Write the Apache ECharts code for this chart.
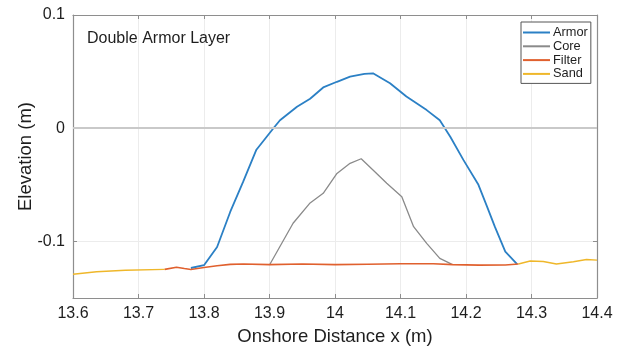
<!DOCTYPE html>
<html><head><meta charset="utf-8">
<script src="https://cdn.jsdelivr.net/npm/echarts@6/dist/echarts.min.js"></script>
<style>html,body{margin:0;padding:0;background:#fff}#c{width:626px;height:347px}</style>
</head><body><div id="c"></div>
<script>
const armorX = [13.78,13.80,13.82,13.84,13.86,13.88,13.906,13.916,13.942,13.962,13.982,14.003,14.023,14.045,14.058,14.084,14.109,14.14,14.16,14.176,14.196,14.219,14.232,14.244,14.26,14.278];
const armorY = [-0.1235,-0.121,-0.105,-0.074,-0.047,-0.019,0.0,0.007,0.019,0.026,0.036,0.041,0.0455,0.048,0.0485,0.0397,0.028,0.016,0.007,-0.0075,-0.028,-0.05,-0.069,-0.087,-0.109,-0.12];
const coreX = [13.90,13.936,13.962,13.982,14.003,14.023,14.04,14.058,14.079,14.102,14.12,14.14,14.16,14.178];
const coreY = [-0.1208,-0.084,-0.066,-0.0575,-0.04,-0.031,-0.027,-0.037,-0.0487,-0.0605,-0.087,-0.1017,-0.115,-0.12];
const filterX = [13.74,13.758,13.77,13.78,13.80,13.82,13.84,13.86,13.90,13.95,14.00,14.05,14.10,14.15,14.18,14.22,14.26,14.28];
const filterY = [-0.1247,-0.1228,-0.124,-0.1248,-0.123,-0.1215,-0.1203,-0.1200,-0.1205,-0.1200,-0.1205,-0.1202,-0.1198,-0.1198,-0.1205,-0.121,-0.1208,-0.1200];
const sandX = [13.60,13.636,13.68,13.74,14.0,14.28,14.298,14.318,14.338,14.364,14.384,14.40];
const sandY = [-0.129,-0.1268,-0.1255,-0.1247,null,-0.120,-0.1173,-0.1178,-0.120,-0.118,-0.116,-0.1165];
const xTicks = [13.6,13.7,13.8,13.9,14.0,14.1,14.2,14.3,14.4];
const yTicks = [-0.1,0,0.1];
const zeroLine = 0;

const zip = (xs, ys) => xs.map((x, i) => [x, ys[i] === null ? '-' : ys[i]]);
const font = 'Liberation Sans, Arial, Helvetica, sans-serif';
const gridLine = {show: true, lineStyle: {color: '#ececec', width: 1}};
const axColor = '#8e8e8e';
const axLine = {show: true, onZero: false, lineStyle: {color: axColor, width: 1.2}};
const tick = vals => ({show: true, inside: true, length: 4, lineStyle: {color: axColor}, customValues: vals});

const chart = echarts.init(document.getElementById('c'), null, {renderer: 'canvas'});
chart.setOption({
  animation: false,
  backgroundColor: '#fff',
  grid: {left: 73, top: 15, right: 29, bottom: 49, show: false, containLabel: false, outerBoundsMode: 'none'},
  title: {text: 'Double Armor Layer', left: 82, top: 26,
    textStyle: {fontFamily: font, fontSize: 16, fontWeight: 'normal', color: '#1e1e1e'}},
  legend: {
    orient: 'vertical', left: 521, top: 22, itemWidth: 27, itemHeight: 2, itemGap: 0.8,
    icon: 'rect',
    padding: [4, 3, 3, 2], borderColor: '#555', borderWidth: 1, backgroundColor: '#fff',
    textStyle: {fontFamily: font, fontSize: 12.8, color: '#1e1e1e', lineHeight: 13, padding: [0, 0, 0, -2]},
    data: ['Armor', 'Core', 'Filter', 'Sand']
  },
  xAxis: [{
    type: 'value', min: 13.6, max: 14.4, interval: 0.1,
    name: 'Onshore Distance x (m)', nameLocation: 'middle', nameGap: 29, nameMoveOverlap: false,
    nameTextStyle: {fontFamily: font, fontSize: 18.5, color: '#1e1e1e'},
    axisLine: axLine, splitLine: gridLine, axisTick: tick(xTicks),
    axisLabel: {fontFamily: font, fontSize: 16, color: '#1e1e1e', margin: 8, customValues: xTicks,
      formatter: v => String(+v.toFixed(1))}
  }, {
    type: 'value', position: 'top', min: 13.6, max: 14.4, interval: 0.1,
    axisLine: axLine, splitLine: {show: false}, axisTick: tick(xTicks),
    axisLabel: {show: false}
  }],
  yAxis: [{
    type: 'value', min: -0.15, max: 0.1,
    name: 'Elevation (m)', nameLocation: 'middle', nameGap: 38, nameMoveOverlap: false,
    nameTextStyle: {fontFamily: font, fontSize: 18.5, color: '#1e1e1e'},
    axisLine: axLine, splitLine: gridLine, axisTick: tick(yTicks),
    axisLabel: {fontFamily: font, fontSize: 16, color: '#1e1e1e', margin: 8, customValues: yTicks,
      formatter: v => String(+v.toFixed(2))}
  }, {
    type: 'value', position: 'right', min: -0.15, max: 0.1,
    axisLine: axLine, splitLine: {show: false}, axisTick: tick(yTicks),
    axisLabel: {show: false}
  }],
  series: [
    {name: 'Armor', type: 'line', symbol: 'none', data: zip(armorX, armorY),
      lineStyle: {color: '#2b80c5', width: 1.8}, itemStyle: {color: '#2b80c5'}, z: 4,
      markLine: {silent: true, symbol: 'none', label: {show: false},
        lineStyle: {color: '#c9c9c9', width: 2, type: 'solid'}, data: [{yAxis: zeroLine}]}},
    {name: 'Core', type: 'line', symbol: 'none', data: zip(coreX, coreY),
      lineStyle: {color: '#8a8a8a', width: 1.3}, itemStyle: {color: '#8a8a8a'}, z: 3},
    {name: 'Filter', type: 'line', symbol: 'none', data: zip(filterX, filterY),
      lineStyle: {color: '#e0602e', width: 1.6}, itemStyle: {color: '#e0602e'}, z: 5},
    {name: 'Sand', type: 'line', symbol: 'none', data: zip(sandX, sandY), connectNulls: false,
      lineStyle: {color: '#efb72a', width: 1.4}, itemStyle: {color: '#efb72a'}, z: 2}
  ]
});
</script></body></html>
